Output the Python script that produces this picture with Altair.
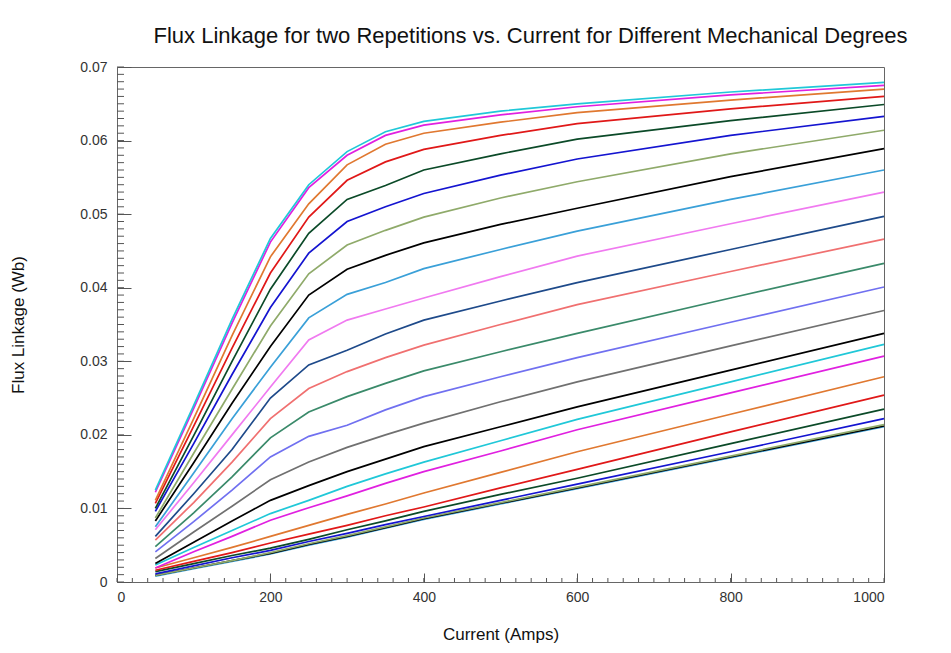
import altair as alt
import pandas as pd

# Current sample points (Amps)
currents = [50, 100, 150, 200, 250, 300, 350, 400, 500, 600, 800, 1000]

# Line colours, bottom curve first
line_colors = [
    "#3aa0d8", "#000000", "#8faa6a", "#1414d0", "#0b4a28", "#e01818", "#e07830", "#e020e0", "#20c8d8",
    "#000000", "#707070", "#7070f0", "#3a8a6a", "#f07070", "#1e4a8a", "#f07af0",
    "#3aa0d8", "#000000", "#8faa6a", "#1414d0", "#0b4a28", "#e01818", "#e07830", "#e020e0", "#20c8d8",
]

# Flux linkage (Wb) per curve, bottom curve first
c01 = [0.0008, 0.0018, 0.0028, 0.0038, 0.0050, 0.0061, 0.0073, 0.0085, 0.0106, 0.0127, 0.0169, 0.0211]
c02 = [0.0009, 0.0019, 0.0029, 0.0039, 0.0051, 0.0062, 0.0074, 0.0086, 0.0107, 0.0128, 0.0170, 0.0212]
c03 = [0.0009, 0.0019, 0.0029, 0.0040, 0.0052, 0.0063, 0.0075, 0.0087, 0.0108, 0.0129, 0.0171, 0.0214]
c04 = [0.0011, 0.0022, 0.0033, 0.0043, 0.0055, 0.0066, 0.0078, 0.0089, 0.0111, 0.0133, 0.0177, 0.0222]
c05 = [0.0014, 0.0025, 0.0036, 0.0046, 0.0058, 0.0071, 0.0083, 0.0096, 0.0119, 0.0141, 0.0188, 0.0235]
c06 = [0.0016, 0.0028, 0.0040, 0.0053, 0.0065, 0.0077, 0.0090, 0.0102, 0.0128, 0.0153, 0.0204, 0.0254]
c07 = [0.0019, 0.0033, 0.0047, 0.0062, 0.0077, 0.0092, 0.0106, 0.0121, 0.0149, 0.0177, 0.0228, 0.0279]
c08 = [0.0019, 0.0041, 0.0062, 0.0084, 0.0101, 0.0117, 0.0134, 0.0150, 0.0178, 0.0207, 0.0257, 0.0307]
c09 = [0.0023, 0.0047, 0.0070, 0.0093, 0.0111, 0.0130, 0.0147, 0.0163, 0.0192, 0.0221, 0.0272, 0.0323]
c10 = [0.0025, 0.0054, 0.0083, 0.0111, 0.0131, 0.0150, 0.0167, 0.0184, 0.0211, 0.0238, 0.0288, 0.0338]
c11 = [0.0032, 0.0068, 0.0103, 0.0139, 0.0163, 0.0183, 0.0200, 0.0216, 0.0245, 0.0272, 0.0321, 0.0369]
c12 = [0.0041, 0.0082, 0.0125, 0.0170, 0.0198, 0.0213, 0.0234, 0.0252, 0.0279, 0.0305, 0.0353, 0.0401]
c13 = [0.0048, 0.0094, 0.0143, 0.0196, 0.0231, 0.0252, 0.0270, 0.0287, 0.0313, 0.0338, 0.0386, 0.0433]
c14 = [0.0057, 0.0108, 0.0163, 0.0222, 0.0263, 0.0286, 0.0305, 0.0322, 0.0350, 0.0377, 0.0422, 0.0466]
c15 = [0.0062, 0.0120, 0.0180, 0.0250, 0.0295, 0.0315, 0.0337, 0.0356, 0.0382, 0.0407, 0.0452, 0.0497]
c16 = [0.0071, 0.0135, 0.0200, 0.0265, 0.0329, 0.0356, 0.0371, 0.0386, 0.0415, 0.0443, 0.0487, 0.0530]
c17 = [0.0075, 0.0148, 0.0222, 0.0292, 0.0359, 0.0391, 0.0407, 0.0426, 0.0452, 0.0477, 0.0520, 0.0560]
c18 = [0.0083, 0.0162, 0.0243, 0.0320, 0.0390, 0.0425, 0.0444, 0.0461, 0.0486, 0.0508, 0.0551, 0.0589]
c19 = [0.0087, 0.0175, 0.0262, 0.0348, 0.0419, 0.0458, 0.0478, 0.0496, 0.0522, 0.0544, 0.0582, 0.0614]
c20 = [0.0096, 0.0188, 0.0282, 0.0373, 0.0447, 0.0490, 0.0510, 0.0528, 0.0553, 0.0575, 0.0607, 0.0633]
c21 = [0.0100, 0.0199, 0.0300, 0.0398, 0.0474, 0.0520, 0.0539, 0.0560, 0.0582, 0.0602, 0.0627, 0.0649]
c22 = [0.0107, 0.0212, 0.0318, 0.0420, 0.0496, 0.0546, 0.0571, 0.0588, 0.0607, 0.0623, 0.0643, 0.0660]
c23 = [0.0111, 0.0222, 0.0335, 0.0442, 0.0514, 0.0567, 0.0595, 0.0610, 0.0625, 0.0638, 0.0655, 0.0670]
c24 = [0.0122, 0.0236, 0.0352, 0.0462, 0.0536, 0.0580, 0.0607, 0.0621, 0.0635, 0.0646, 0.0662, 0.0675]
c25 = [0.0125, 0.0240, 0.0357, 0.0467, 0.0540, 0.0585, 0.0612, 0.0626, 0.0640, 0.0650, 0.0666, 0.0679]

curves = [c01, c02, c03, c04, c05, c06, c07, c08, c09, c10, c11, c12, c13,
          c14, c15, c16, c17, c18, c19, c20, c21, c22, c23, c24, c25]

# Axis ticks
x_major = [0, 200, 400, 600, 800, 1000]
x_minor = list(range(0, 1001, 20))
y_major = [0, 0.01, 0.02, 0.03, 0.04, 0.05, 0.06, 0.07]
y_minor = [round(0.001 * i, 3) for i in range(71)]

names = [f"c{i + 1:02d}" for i in range(len(curves))]
rows = []
for name, vals in zip(names, curves):
    for x, v in zip(currents, vals):
        rows.append({"curve": name, "current": x, "flux": v})
df = pd.DataFrame(rows)

FONT = "sans-serif"
W, H = 767, 515
xscale = alt.Scale(domain=[0, 1000], nice=False, zero=False)
yscale = alt.Scale(domain=[0, 0.07], nice=False, zero=False)
TICK = "#555555"

# major ticks drawn inward: axis shifted into the plot by its tick length
x_axis = alt.Axis(orient="bottom", values=x_major, ticks=True, tickSize=9, offset=-9,
                  tickColor=TICK, domain=False, grid=False, format="d",
                  title="Current (Amps)", labelPadding=8, titlePadding=22)
y_axis = alt.Axis(orient="left", values=y_major, ticks=True, tickSize=14, offset=-14,
                  tickColor=TICK, domain=False, grid=False,
                  labelExpr="datum.value == 0 ? '0' : format(datum.value, '.2f')",
                  title="Flux Linkage (Wb)", labelPadding=10, titlePadding=52)

ymin = alt.Chart(pd.DataFrame({"v": y_minor})).mark_rule(color=TICK, strokeWidth=1).encode(
    y=alt.Y("v:Q", scale=yscale, axis=y_axis), x=alt.value(0), x2=alt.value(7))
xmin = alt.Chart(pd.DataFrame({"v": x_minor})).mark_rule(color=TICK, strokeWidth=1).encode(
    x=alt.X("v:Q", scale=xscale, axis=x_axis), y=alt.value(H), y2=alt.value(H - 4))

lines = alt.Chart(df).mark_line(strokeWidth=1.7).encode(
    x=alt.X("current:Q", scale=xscale, axis=x_axis),
    y=alt.Y("flux:Q", scale=yscale, axis=y_axis),
    color=alt.Color("curve:N", scale=alt.Scale(domain=names, range=line_colors), legend=None),
)

chart = alt.layer(ymin, xmin, lines).properties(
    width=W,
    height=H,
    autosize=alt.AutoSizeParams(type="none"),
    padding={"left": 109, "top": 59, "right": 59, "bottom": 63},
    title=alt.TitleParams(
        "Flux Linkage for two Repetitions vs. Current for Different Mechanical Degrees",
        font=FONT, fontSize=22, fontWeight="normal", color="#111111",
        anchor="middle", dx=30, offset=12,
    ),
).configure_view(
    stroke="#666666", strokeWidth=1
).configure_axis(
    labelFont=FONT, labelFontSize=14, labelColor="#333333",
    titleFont=FONT, titleFontSize=17, titleFontWeight="normal", titleColor="#111111",
)

chart.save("out.html", embed_options={"renderer": "svg", "actions": False})
